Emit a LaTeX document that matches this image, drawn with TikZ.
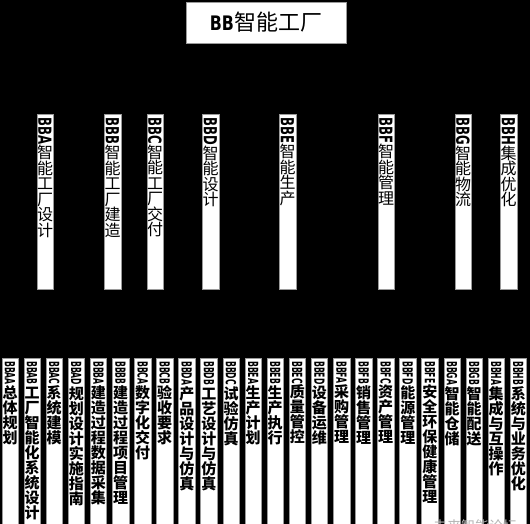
\documentclass[tikz,border=0pt]{standalone}
\usepackage{fontspec}
\usepackage{graphicx}
\newfontfamily\cjk{Noto Sans CJK SC}
\newfontfamily\lat{DejaVu Sans}
\definecolor{bbEdge}{HTML}{9A9A9A}
\definecolor{bbMark}{HTML}{B4B4B4}

% vertical labels: the code turned, then one CJK character per cell
\newlength\cellh
\def\stackcjk#1{\ifx#1\relax\else\hbox to 16pt{\hss\rule[-2pt]{0pt}{\cellh}\smash{#1}\hss}\expandafter\stackcjk\fi}
\newcommand{\midlabel}[2]{\vbox to 169pt{\offinterlineskip
  \hbox to 16pt{\hss\rotatebox{-90}{\scalebox{0.65}[1]{\fontsize{18}{18}\lat\bfseries #1}}\hss}\kern1pt
  \fontsize{16}{16}\cjk\setlength\cellh{15.5pt}\expandafter\stackcjk#2\relax\vss}}
\newcommand{\leaflabel}[2]{\vbox to 166pt{\offinterlineskip
  \hbox to 16pt{\hss\rotatebox{-90}{\scalebox{0.55}[1]{\fontsize{14}{14}\lat\bfseries #1}}\hss}\kern1pt
  \fontsize{15}{15}\cjk\bfseries\setlength\cellh{15pt}\expandafter\stackcjk#2\relax\vss}}

\begin{document}
\begin{tikzpicture}[
    x=1pt, y=1pt,
    root/.style={draw=bbEdge, line width=0.8pt, fill=white, minimum width=160pt,
                 minimum height=41pt, inner sep=0pt},
    branch/.style={draw=bbEdge, line width=0.5pt, fill=white, anchor=north,
                   minimum width=16.5pt, inner xsep=0pt, inner ysep=3pt},
    leaf/.style={branch},
    wmark/.style={anchor=west, text=bbMark, font=\fontsize{14}{14}\cjk, inner sep=0pt},
  ]
  \useasboundingbox (0,0) rectangle (530,-524);
  \fill[black] (0,0) rectangle (530,-524);
  \clip (0,0) rectangle (530,-524);
  \def\yb{-114}\def\yc{-358}

  % top box
  \node[root] (bb) at (266,-22.5)
    {\scalebox{0.79}[1]{\fontsize{20}{20}\lat\bfseries BB}{\fontsize{22}{22}\cjk 智能工厂}};

  % second row
  \node[branch] (bba) at (45,\yb)    {\midlabel{BBA}{智能工厂设计}};
  \node[branch] (bbb) at (112.5,\yb) {\midlabel{BBB}{智能工厂建造}};
  \node[branch] (bbc) at (155,\yb)   {\midlabel{BBC}{智能工厂交付}};
  \node[branch] (bbd) at (210.5,\yb) {\midlabel{BBD}{智能设计}};
  \node[branch] (bbe) at (287.5,\yb) {\midlabel{BBE}{智能生产}};
  \node[branch] (bbf) at (386,\yb)   {\midlabel{BBF}{智能管理}};
  \node[branch] (bbg) at (463,\yb)   {\midlabel{BBG}{智能物流}};
  \node[branch] (bbh) at (508.5,\yb) {\midlabel{BBH}{集成优化}};

  % third row: 24 boxes, 22.1 apart
  \foreach \code/\lbl [count=\i from 0] in {BBAA/总体规划, BBAB/工厂智能化系统设计,
      BBAC/系统建模, BBAD/规划设计实施指南, BBBA/建造过程数据采集, BBBB/建造过程项目管理,
      BBCA/数字化交付, BBCB/验收要求, BBDA/产品设计与仿真, BBDB/工艺设计与仿真,
      BBDC/试验仿真, BBEA/生产计划, BBEB/生产执行, BBEC/质量管控, BBED/设备运维,
      BBFA/采购管理, BBFB/销售管理, BBFC/资产管理, BBFD/能源管理, BBFE/安全环保健康管理,
      BBGA/智能仓储, BBGB/智能配送, BBHA/集成与互操作, BBHB/系统与业务优化}
    \node[leaf] (\code) at ({10+22.1*\i},\yc) {\leaflabel{\code}{\lbl}};

  \node[wmark] (wm) at (433,-526) {未来智能论坛};
\end{tikzpicture}
\end{document}
